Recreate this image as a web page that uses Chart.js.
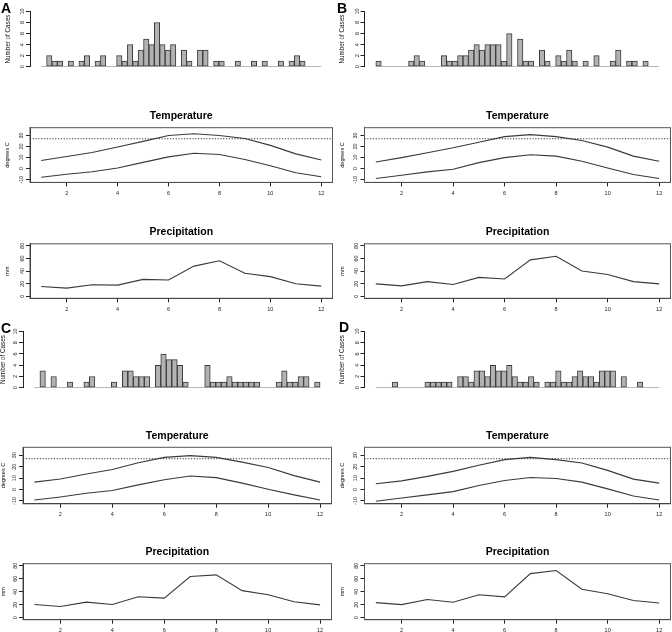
<!DOCTYPE html>
<html><head><meta charset="utf-8">
<script src="https://cdn.jsdelivr.net/npm/chart.js@4.4.1/dist/chart.umd.min.js"></script>
<style>
html,body{margin:0;padding:0;background:#fff;width:672px;height:632px;overflow:hidden;position:relative;font-family:"Liberation Sans",Arial,Helvetica,sans-serif}
canvas{position:absolute}
.lbl{position:absolute;font-weight:bold;font-size:14px;line-height:14px;color:#000}
</style></head><body>
<script>
// ---------- data ----------
const months = [1,2,3,4,5,6,7,8,9,10,11,12];
const monthTicks = [2,4,6,8,10,12];
const caseTicks = [0,2,4,6,8,10];
const tempTicks = [-10,0,10,20,30];
const precipTicks = [0,20,40,60,80];
const heatThreshold = 27;
const panelNames = ['A','B','C','D'];

// weekly number of cases (52 weeks)
const casesA = [0,2,1,1,0,1,0,1,2,0, 1,2,0,0,2,1,4,1,3,5, 4,8,4,3,4,0,3,1,0,3, 3,0,1,1,0,0,1,0,0,1, 0,1,0,0,1,0,1,2,1,0, 0,0];
const casesB = [1,0,0,0,0,0,1,2,1,0, 0,0,2,1,1,2,2,3,4,3, 4,4,4,1,6,0,5,1,1,0, 3,1,0,2,1,3,1,0,1,0, 2,0,0,1,3,0,1,1,0,1, 0,0];
const casesC = [0,3,0,2,0,0,1,0,0,1, 2,0,0,0,1,0,3,3,2,2, 2,0,4,6,5,5,4,1,0,0, 0,4,1,1,1,2,1,1,1,1, 1,0,0,0,1,3,1,1,2,2, 0,1];
const casesD = [0,0,0,1,0,0,0,0,0,1, 1,1,1,1,0,2,2,1,3,3, 2,4,3,3,4,2,1,1,2,1, 0,1,1,3,1,1,2,3,2,2, 1,3,3,3,0,2,0,0,1,0, 0,0];

// monthly mean max / min temperature (degrees C)
const tempHighA = [7.3, 11, 14.5, 19.6, 24.6, 30, 31.5, 30, 27.2, 21, 13.3, 7.7];
const tempLowA  = [-7.8, -5.1, -2.8, 0.5, 5.6, 10.6, 13.9, 12.8, 8.3, 2.6, -3.7, -7.4];
const tempHighB = [6, 9.9, 14.3, 18.8, 23.9, 28.9, 30.7, 28.9, 25.4, 19.4, 11.3, 6.6];
const tempLowB  = [-9, -6, -3, -0.6, 5.4, 9.9, 12.5, 11.3, 6.6, 0.6, -5.4, -9];
const tempHighC = [6.5, 9.2, 13.6, 17.5, 23.4, 28.2, 29.7, 28.2, 24, 19.3, 12.2, 6.5];
const tempLowC  = [-9.2, -6.5, -3.3, -0.9, 4.1, 8.6, 11.9, 10.4, 5.6, 0.3, -4.7, -9.2];
const tempHighD = [5, 7.6, 11.5, 15.9, 21.2, 26.2, 28.2, 26.2, 23.3, 16.8, 9.1, 5.6];
const tempLowD  = [-10.3, -7.4, -4.7, -1.8, 3.5, 7.9, 10.6, 9.7, 6.5, 0.6, -5.6, -9.1];

// monthly precipitation (mm)
const precipA = [15.6, 12.9, 18.3, 17.7, 26.8, 25.8, 47.8, 56.4, 36.5, 31.1, 19.9, 16.1];
const precipB = [19.6, 16.5, 23.2, 18.6, 29.9, 27.3, 57.7, 63.4, 40.2, 34.5, 23.2, 19.6];
const precipC = [20.3, 17.1, 23.9, 20.3, 32.2, 30.1, 63.4, 66, 41.6, 35.3, 24.4, 19.7];
const precipD = [23.2, 20, 27.9, 23.7, 35.3, 32.1, 67.9, 72.6, 43.7, 36.8, 26.3, 22.6];

const series = {
  A: {cases: casesA, hi: tempHighA, lo: tempLowA, prec: precipA},
  B: {cases: casesB, hi: tempHighB, lo: tempLowB, prec: precipB},
  C: {cases: casesC, hi: tempHighC, lo: tempLowC, prec: precipC},
  D: {cases: casesD, hi: tempHighD, lo: tempLowD, prec: precipD}
};

// ---------- layout ----------
const FONT = '"Liberation Sans", Arial, Helvetica, sans-serif';
const X_RANGE = [0.56, 12.44];
const CASE_RANGE = [0, 10];
const TEMP_RANGE = [-12.5, 37];
const PREC_RANGE = [-3.2, 83.2];
const ROW0 = {hist:[11.5,66.7], temp:[127.7,182.4], prec:[243.8,298.3]};
const ROW1 = {hist:[331.5,387.7], temp:[447.3,503.8], prec:[563.7,619.7]};
const LAYOUT = {
  A: Object.assign({x0:30, x1:332.5, titleX:7.8, label:[1,1]}, ROW0),
  B: Object.assign({x0:364.5, x1:670.5, titleX:342.6, label:[337,1]}, ROW0),
  C: Object.assign({x0:23, x1:331.5, titleX:3.6, label:[1,321]}, ROW1),
  D: Object.assign({x0:364.5, x1:670.5, titleX:342.6, label:[339,320]}, ROW1)
};
const INK = '#222';
const LINE = '#3a3a3a';

const boxPlugin = {
  id: 'box',
  afterDatasetsDraw(chart, args, opts) {
    if (!opts || !opts.on) return;
    const {ctx, chartArea: a} = chart;
    ctx.save();
    ctx.strokeStyle = '#555'; ctx.lineWidth = 1;
    ctx.strokeRect(a.left, a.top, a.right - a.left, a.bottom - a.top);
    ctx.restore();
  }
};
const refLinePlugin = {
  id: 'refLine',
  afterDatasetsDraw(chart, args, opts) {
    if (!opts || opts.value == null) return;
    const {ctx, chartArea: a} = chart;
    const y = chart.scales.y.getPixelForValue(opts.value);
    ctx.save();
    ctx.strokeStyle = '#333'; ctx.lineWidth = 1; ctx.setLineDash([1.2, 1.6]);
    ctx.beginPath(); ctx.moveTo(a.left, y); ctx.lineTo(a.right, y); ctx.stroke();
    ctx.restore();
  }
};

function makeChart(name, kind) {
  const L = LAYOUT[name];
  const S = series[name];
  const [top, bottom] = L[kind];
  const isHist = kind === 'hist';
  const titleSpace = isHist ? 8 : 20;
  const bottomSpace = isHist ? 4 : 18;
  const cLeft = Math.floor(Math.min(L.x0 - 30, L.titleX - 6));
  const cTop = Math.floor(top) - titleSpace;
  const cW = Math.ceil(L.x1) + 2 - cLeft;
  const cH = Math.ceil(bottom) + bottomSpace - cTop;
  const yAxisW = L.x0 - cLeft;
  const padRight = cW - (L.x1 - cLeft);
  const TITLE_H = 10.5, TITLE_PB = 6.25;
  const padTop = (top - cTop) - (isHist ? 0 : TITLE_H + TITLE_PB);
  const xAxisH = isHist ? 0 : (cH - (bottom - cTop));
  const padBottom = isHist ? (cH - (bottom - cTop)) : 0;

  const canvas = document.createElement('canvas');
  canvas.width = cW; canvas.height = cH;
  canvas.style.left = cLeft + 'px'; canvas.style.top = cTop + 'px';
  canvas.style.width = cW + 'px'; canvas.style.height = cH + 'px';
  document.body.appendChild(canvas);

  let yRange, yTicks, yTitle, yTitleSize, yPad;
  if (kind === 'hist') { yRange = CASE_RANGE; yTicks = caseTicks; yTitle = 'Number of Cases'; yTitleSize = 6.3; yPad = 0; }
  else if (kind === 'temp') { yRange = TEMP_RANGE; yTicks = tempTicks; yTitle = 'degrees C'; yTitleSize = 5.5; yPad = 1; }
  else { yRange = PREC_RANGE; yTicks = precipTicks; yTitle = 'mm'; yTitleSize = 5.5; yPad = 0.5; }

  const titleCenter = L.titleX - cLeft;
  const datasets = [];
  if (isHist) {
    const n = S.cases.length;
    const span = months[months.length - 1] - months[0];
    datasets.push({
      type: 'line', order: 2,
      data: [{x: months[0], y: 0}, {x: months[months.length - 1], y: 0}],
      borderColor: '#8a8a8a', borderWidth: 1, pointRadius: 0
    });
    datasets.push({
      type: 'bar', order: 1,
      data: S.cases.map((v, i) => ({x: months[0] + (i + 0.5) * span / n, y: v})),
      backgroundColor: '#b2b2b2', borderColor: '#3a3a3a', borderWidth: 1,
      borderSkipped: false, barPercentage: 1, categoryPercentage: 1
    });
  } else if (kind === 'temp') {
    [S.hi, S.lo].forEach(arr => datasets.push({
      type: 'line', data: months.map((m, i) => ({x: m, y: arr[i]})),
      borderColor: LINE, borderWidth: 1.1, pointRadius: 0, tension: 0, fill: false
    }));
  } else {
    datasets.push({
      type: 'line', data: months.map((m, i) => ({x: m, y: S.prec[i]})),
      borderColor: LINE, borderWidth: 1.1, pointRadius: 0, tension: 0, fill: false
    });
  }

  new Chart(canvas, {
    type: 'bar',
    data: {datasets},
    plugins: [boxPlugin, refLinePlugin],
    options: {
      responsive: false, animation: false, events: [],
      layout: {padding: {left: 0, right: padRight, top: padTop, bottom: padBottom}},
      plugins: {
        legend: {display: false}, tooltip: {enabled: false},
        title: {
          display: !isHist, text: kind === 'temp' ? 'Temperature' : 'Precipitation',
          fullSize: false, color: '#000',
          font: {family: FONT, size: TITLE_H, weight: 'bold', lineHeight: 1},
          padding: {top: 0, bottom: TITLE_PB}
        },
        box: {on: !isHist},
        refLine: {value: kind === 'temp' ? heatThreshold : null}
      },
      scales: {
        x: {
          type: 'linear', min: X_RANGE[0], max: X_RANGE[1], offset: false,
          display: !isHist,
          afterBuildTicks: s => { s.ticks = monthTicks.map(v => ({value: v})); },
          afterFit: s => { s.height = xAxisH; s.paddingLeft = 0; s.paddingRight = 0; s.paddingTop = 0; s.paddingBottom = 0; },
          border: {display: true, color: INK, width: 1},
          grid: {display: true, offset: false, drawOnChartArea: false, drawTicks: true, tickLength: 4, tickColor: INK, tickWidth: 1},
          ticks: {padding: 3.5, minRotation: 0, maxRotation: 0, autoSkip: false, color: INK, font: {family: FONT, size: 5.5}}
        },
        y: {
          type: 'linear', min: yRange[0], max: yRange[1],
          afterBuildTicks: s => { s.ticks = yTicks.map(v => ({value: v})); },
          afterFit: s => { s.width = yAxisW; s.paddingLeft = 0; s.paddingRight = 0; s.paddingTop = 0; s.paddingBottom = 0; },
          border: {display: true, color: INK, width: 1},
          grid: {display: true, drawOnChartArea: false, drawTicks: true, tickLength: 4, tickColor: INK, tickWidth: 1},
          ticks: {minRotation: 90, maxRotation: 90, crossAlign: 'center', padding: yPad, autoSkip: false, color: INK, font: {family: FONT, size: 5.5}},
          title: {display: true, text: yTitle, color: '#111',
            font: {family: FONT, size: yTitleSize, lineHeight: 1},
            padding: {top: titleCenter - yTitleSize / 2, bottom: 0}}
        }
      }
    }
  });
}

panelNames.forEach(name => {
  ['hist', 'temp', 'prec'].forEach(kind => makeChart(name, kind));
  const d = document.createElement('div');
  d.className = 'lbl';
  d.textContent = name;
  d.style.left = LAYOUT[name].label[0] + 'px';
  d.style.top = LAYOUT[name].label[1] + 'px';
  document.body.appendChild(d);
});
</script>
</body></html>
